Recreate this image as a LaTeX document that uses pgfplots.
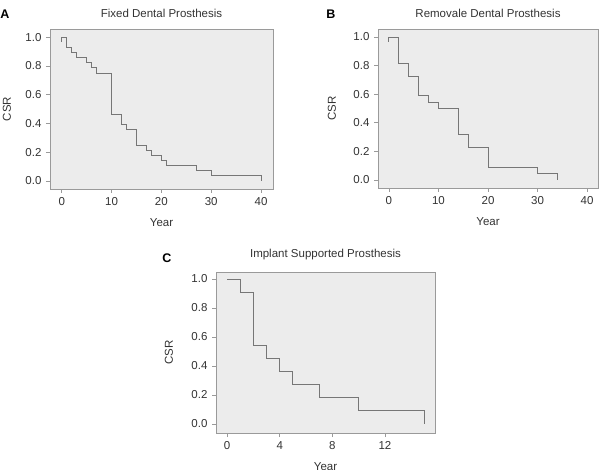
\documentclass[border=0pt]{standalone}
\usepackage{pgfplots}
\pgfplotsset{compat=1.18}
\usepackage{fontspec}
\setmainfont{Liberation Sans}
\definecolor{bgc}{HTML}{ECECEC}
\definecolor{framec}{HTML}{9A9A9A}
\definecolor{linec}{HTML}{767676}
\definecolor{txtc}{HTML}{333333}
\pgfplotsset{
  km/.style={
    scale only axis,
    axis background/.style={fill=bgc},
    axis line style={draw=framec, line width=0.8pt},
    tick align=outside,
    xtick pos=bottom, ytick pos=left,
    major tick length=4pt,
    tick style={draw=framec, line width=0.6pt},
    ytick={0,0.2,0.4,0.6,0.8,1.0},
    yticklabel style={/pgf/number format/fixed, /pgf/number format/fixed zerofill, /pgf/number format/precision=1},
    /pgf/number format/assume math mode=true,
    ticklabel style={font=\fontsize{11.5}{13}\selectfont, text=txtc},
    label style={font=\fontsize{11.5}{13}\selectfont, text=txtc},
    title style={font=\fontsize{11.5}{13}\selectfont, text=txtc},
    xticklabel style={yshift=-1pt},
    yticklabel style={xshift=-1pt},
    ylabel={CSR},
    xlabel={Year},
  },
  kmline/.style={const plot, color=linec, line width=0.9pt, mark=none},
}
\begin{document}
\begin{tikzpicture}[x=1pt,y=1pt]
\useasboundingbox (0,0) rectangle (602,469);
% Panel A
\begin{axis}[km, at={(50pt,280pt)}, anchor=south west,
  width=223pt, height=160pt,
  xmin=-2.35, xmax=42.4, ymin=-0.056, ymax=1.056,
  xtick={0,10,20,30,40},
  title={Fixed Dental Prosthesis},
  title style={at={(axis description cs:0.5,1)}, anchor=center, yshift=10pt},
  xlabel style={at={(axis description cs:0.5,0)}, anchor=center, yshift=-33.5pt},
  ylabel style={at={(axis description cs:0,0.5)}, anchor=center, yshift=43pt},
]
\addplot[kmline] coordinates {
(0,0.967) (0,1) (1,0.929) (2,0.893) (3,0.857) (5,0.821) (6,0.786) (7,0.75)
(10,0.464) (12,0.393) (13,0.357) (15,0.25) (17,0.214) (18,0.179) (20,0.143)
(21,0.107) (27,0.071) (30,0.036) (40,0.036) (40,0.0)
};
\end{axis}
% Panel B
\begin{axis}[km, at={(378pt,281pt)}, anchor=south west,
  width=220pt, height=159pt,
  xmin=-2.2, xmax=42.2, ymin=-0.056, ymax=1.056,
  xtick={0,10,20,30,40},
  title={Removale Dental Prosthesis},
  title style={at={(axis description cs:0.5,1)}, anchor=center, yshift=10pt},
  xlabel style={at={(axis description cs:0.5,0)}, anchor=center, yshift=-33.5pt},
  ylabel style={at={(axis description cs:0,0.5)}, anchor=center, yshift=46pt},
]
\addplot[kmline] coordinates {
(0,0.967) (0,1) (2,0.818) (4,0.727) (6,0.591) (8,0.545) (10,0.5)
(14,0.318) (16,0.227) (20,0.091) (30,0.045) (34,0.045) (34,0.0)
};
\end{axis}
% Panel C
\begin{axis}[km, at={(216pt,36pt)}, anchor=south west,
  width=219pt, height=161pt,
  xmin=-0.84, xmax=15.8, ymin=-0.062, ymax=1.048,
  xtick={0,4,8,12},
  title={Implant Supported Prosthesis},
  title style={at={(axis description cs:0.5,1)}, anchor=center, yshift=11pt},
  xlabel style={at={(axis description cs:0.5,0)}, anchor=center, yshift=-33.5pt},
  ylabel style={at={(axis description cs:0,0.5)}, anchor=center, yshift=47pt},
]
\addplot[kmline] coordinates {
(0,1) (1,0.909) (2,0.545) (3,0.455) (4,0.364) (5,0.273) (7,0.182)
(10,0.091) (15,0.091) (15,0.0)
};
\end{axis}
\node[font=\bfseries\fontsize{12.5}{14}\selectfont] at (5,455) {A};
\node[font=\bfseries\fontsize{12.5}{14}\selectfont] at (331,455) {B};
\node[font=\bfseries\fontsize{12.5}{14}\selectfont] at (167,211) {C};
\end{tikzpicture}
\end{document}
